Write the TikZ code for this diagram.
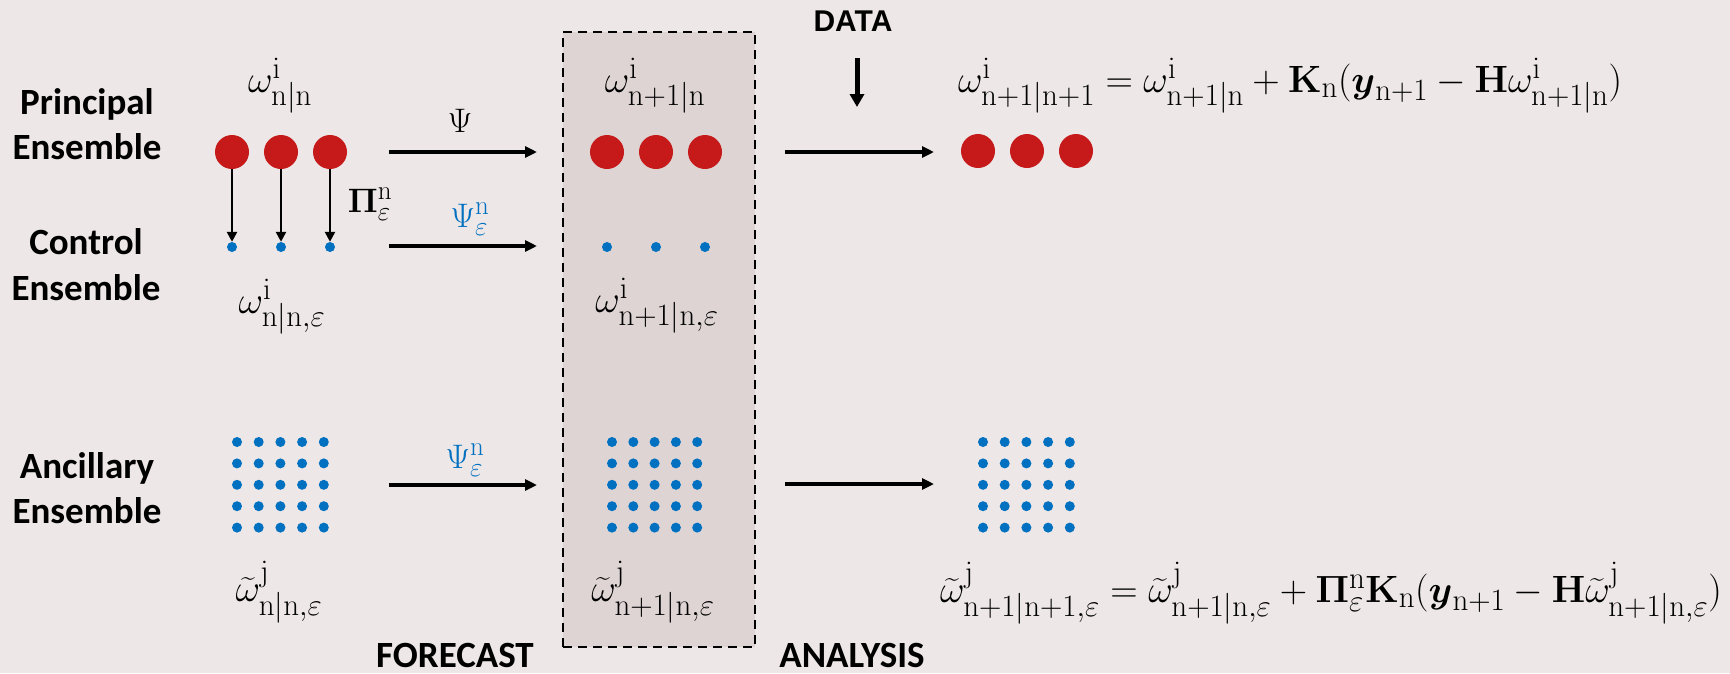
\documentclass[tikz,border=0pt]{standalone}
\usepackage{fix-cm}
\usepackage{amsmath}
\usepackage[no-math]{fontspec}
\newfontfamily\labelfont{Carlito}
\newfontfamily\headfont{Liberation Sans}
\usetikzlibrary{arrows.meta}
\DeclareMathSizes{34}{34}{27}{20}
\DeclareMathSizes{38}{38}{31}{24}

\definecolor{bgcol}{RGB}{237,231,231}
\definecolor{boxcol}{RGB}{222,212,212}
\definecolor{pred}{RGB}{198,26,26}
\definecolor{pblue}{RGB}{0,112,192}

% ancillary member state
\newcommand{\aom}{\widetilde{\omega}}

\tikzset{
  lbl/.style={font=\labelfont\bfseries\fontsize{37}{44}\selectfont, anchor=base, inner sep=0pt},
  headlbl/.style={font=\headfont\bfseries\fontsize{30}{36}\selectfont, anchor=base, inner sep=0pt},
  mth/.style={font=\fontsize{38}{44}\selectfont, anchor=base, inner sep=0pt},
  oplbl/.style={font=\fontsize{34}{40}\selectfont, anchor=base, inner sep=0pt},
  bigdot/.style={circle, fill=pred, minimum size=34pt, inner sep=0pt},
  smalldot/.style={circle, fill=pblue, minimum size=10pt, inner sep=0pt},
  flow/.style={line width=4pt, -{Triangle[length=12pt,width=11pt]}},
  proj/.style={line width=2.4pt, -{Triangle[length=10pt,width=10pt]}},
  feed/.style={line width=5pt, -{Triangle[length=13pt,width=14pt]}},
  window/.style={draw, fill=boxcol, line width=2.6pt, dash pattern=on 9pt off 6pt, inner sep=0pt},
}

\begin{document}
\begin{tikzpicture}[x=1pt, y=-1pt]
  \fill[bgcol] (0,0) rectangle (1730,673);
  \useasboundingbox (0,0) rectangle (1730,673);

  % forecast window
  \node[window, minimum width=192pt, minimum height=615pt] (win) at (659,339.5) {};

  % row titles
  \node[lbl] (pr1) at (87,114) {Principal};
  \node[lbl] (pr2) at (87,159) {Ensemble};
  \node[lbl] (co1) at (86,254) {Control};
  \node[lbl] (co2) at (86,300) {Ensemble};
  \node[lbl] (an1) at (87,478) {Ancillary};
  \node[lbl] (an2) at (87,523) {Ensemble};

  % stage titles
  \node[headlbl] (data) at (853,31) {DATA};
  \node[lbl] (fc) at (455,667) {FORECAST};
  \node[lbl] (as) at (852,667) {ANALYSIS};

  % principal members
  \foreach \i/\x in {1/232,2/281,3/330} {
    \node[bigdot] (p\i) at (\x,152) {};
    \node[smalldot] (c\i) at (\x,247) {};
    \draw[proj] (p\i) -- (c\i);
  }
  \foreach \i/\x in {1/607,2/656,3/705} {
    \node[bigdot] (q\i) at (\x,152) {};
    \node[smalldot] (d\i) at (\x,247) {};
  }
  \foreach \i/\x in {1/978,2/1027,3/1076}
    \node[bigdot] (r\i) at (\x,151) {};

  % ancillary members
  \foreach \c in {0,...,4}
    \foreach \r in {0,...,4} {
      \node[smalldot] (a-\c-\r) at ({237+21.7*\c},{442+21.4*\r}) {};
      \node[smalldot] (b-\c-\r) at ({612+21.3*\c},{442+21.4*\r}) {};
      \node[smalldot] (e-\c-\r) at ({983+21.7*\c},{442+21.4*\r}) {};
    }

  % state labels
  \node[mth] (lpn) at (280,92) {$\omega^{\mathrm{i}}_{\mathrm{n|n}}$};
  \node[mth] (lcn) at (282,313) {$\omega^{\mathrm{i}}_{\mathrm{n|n},\varepsilon}$};
  \node[mth] (lpf) at (655,92) {$\omega^{\mathrm{i}}_{\mathrm{n+1|n}}$};
  \node[mth] (lcf) at (657,312) {$\omega^{\mathrm{i}}_{\mathrm{n+1|n},\varepsilon}$};
  \node[mth] (lan) at (279,601) {$\aom^{\mathrm{j}}_{\mathrm{n|n},\varepsilon}$};
  \node[mth] (laf) at (653,601) {$\aom^{\mathrm{j}}_{\mathrm{n+1|n},\varepsilon}$};
  \node[mth] (eqp) at (1290,92) {$\omega^{\mathrm{i}}_{\mathrm{n+1|n+1}} = \omega^{\mathrm{i}}_{\mathrm{n+1|n}} + \mathbf{K}_{\mathrm{n}}(\boldsymbol{y}_{\mathrm{n+1}} - \mathbf{H}\omega^{\mathrm{i}}_{\mathrm{n+1|n}})$};
  \node[mth] (eqa) at (1331,602) {$\aom^{\mathrm{j}}_{\mathrm{n+1|n+1},\varepsilon} = \aom^{\mathrm{j}}_{\mathrm{n+1|n},\varepsilon} + \mathbf{\Pi}^{\mathrm{n}}_{\varepsilon}\mathbf{K}_{\mathrm{n}}(\boldsymbol{y}_{\mathrm{n+1}} - \mathbf{H}\aom^{\mathrm{j}}_{\mathrm{n+1|n},\varepsilon})$};

  % operator labels
  \node[oplbl] (psi) at (460,132) {$\Psi$};
  \node[oplbl, text=pblue] (psic) at (470,227) {$\Psi^{\mathrm{n}}_{\varepsilon}$};
  \node[oplbl, text=pblue] (psia) at (465,468) {$\Psi^{\mathrm{n}}_{\varepsilon}$};
  \node[oplbl] (proj) at (370,212) {$\mathbf{\Pi}^{\mathrm{n}}_{\varepsilon}$};

  % arrow end points
  \coordinate (fps) at (389,152);  \coordinate (fpe) at (537,152);
  \coordinate (fcs) at (389,246);  \coordinate (fce) at (537,246);
  \coordinate (fas) at (389,485);  \coordinate (fae) at (537,485);
  \coordinate (aps) at (785,152);  \coordinate (ape) at (934,152);
  \coordinate (aas) at (785,484);  \coordinate (aae) at (934,484);
  \coordinate (ds) at (857,58);    \coordinate (de) at (857,107);

  \draw[flow] (fps) -- (fpe);
  \draw[flow] (fcs) -- (fce);
  \draw[flow] (fas) -- (fae);
  \draw[flow] (aps) -- (ape);
  \draw[flow] (aas) -- (aae);
  \draw[feed] (ds) -- (de);
\end{tikzpicture}
\end{document}
